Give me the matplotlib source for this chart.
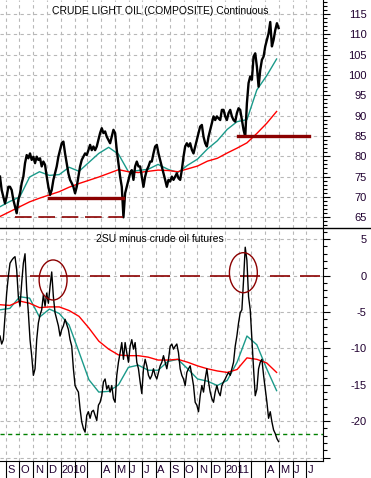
import numpy as np
import pandas as pd
import matplotlib
matplotlib.use("Agg")
import matplotlib.pyplot as plt
import matplotlib.ticker as mticker
import matplotlib.dates as mdates
from matplotlib.patches import Ellipse
from matplotlib.lines import Line2D

plt.rcParams['font.family'] = ['Liberation Sans', 'DejaVu Sans']

########################################################################################################################
# Data (roughly every 3.7 days for the price lines, every ~3 weeks for the averages)
########################################################################################################################

oil = [
    75.0, 71.7, 70.1, 68.4, 70.1, 72.5, 72.5, 71.7, 69.3, 67.6, 66.0, 69.3, 70.9, 73.4, 75.0, 78.3,
    80.3, 79.5, 80.7, 79.1, 79.9, 78.3, 79.9, 79.1, 79.5, 77.5, 78.7, 77.9, 75.0, 72.5, 70.5, 71.7,
    74.2, 75.8, 77.5, 79.9, 81.5, 83.2, 83.6, 80.7, 78.3, 75.8, 74.2, 73.4, 72.5, 70.9, 72.5, 75.0,
    77.5, 79.1, 79.9, 80.7, 80.3, 81.5, 82.8, 81.5, 82.4, 81.5, 82.4, 84.0, 85.7, 86.9, 85.7, 86.1,
    84.8, 84.0, 83.2, 84.8, 86.5, 85.7, 81.5, 78.3, 75.0, 72.5, 65.0, 70.9, 72.5, 74.2, 75.8, 76.6,
    74.2, 77.5, 78.7, 77.5, 77.5, 75.0, 72.5, 75.0, 76.6, 77.5, 78.7, 78.7, 80.7, 82.4, 82.8, 80.7,
    79.1, 77.5, 75.8, 74.2, 72.5, 74.2, 73.8, 75.0, 74.2, 75.0, 75.8, 74.6, 74.2, 76.6, 79.9, 82.4,
    83.2, 82.4, 83.2, 81.6, 80.7, 82.4, 84.0, 85.7, 87.3, 87.7, 84.8, 83.2, 82.4, 84.8, 86.5, 88.1,
    89.8, 88.9, 89.8, 89.3, 88.9, 91.4, 91.4, 89.8, 88.9, 90.6, 91.4, 89.8, 88.9, 88.5, 90.6, 91.8,
    91.4, 88.9, 86.5, 84.8, 93.0, 98.0, 99.6, 98.8, 104.5, 105.3, 102.0, 97.1, 101.2, 103.7, 104.5, 107.0,
    108.6, 110.2, 113.0, 107.0, 108.6, 111.0, 112.7, 111.5,
]
oil_ma_fast = [
    67.6, 68.9, 70.0, 74.9, 76.2, 75.3, 75.5, 77.3, 76.3, 78.5, 80.7, 82.2, 80.5, 76.2, 76.5,
    76.8, 78.0, 76.8, 76.0, 77.8, 79.3, 81.8, 83.8, 86.6, 88.5, 89.0, 96.3, 99.8, 103.9,
]
oil_ma_slow = [
    65.2, 66.4, 67.6, 68.8, 69.7, 70.5, 71.3, 72.4, 73.3, 74.1, 74.9, 75.8, 76.7, 76.2, 76.0,
    76.3, 76.6, 76.5, 76.2, 76.9, 77.6, 78.8, 79.5, 80.8, 82.0, 83.3, 85.6, 88.1, 91.0,
]

spread = [
    -8.3, -9.4, -8.8, -5.6, -2.4, -0.1, 1.7, 2.1, 2.4, 2.6, 0.8, -2.9, -4.2, -1.0, 1.7, 3.0,
    -2.0, -5.1, -8.8, -11.0, -13.7, -12.8, -8.8, -6.5, -5.4, -4.7, -2.6, -4.2, -2.4, -3.8, -1.5, 0.5,
    -2.9, -5.1, -6.0, -6.9, -8.3, -7.4, -6.9, -6.0, -6.7, -7.4, -8.8, -9.7, -12.8, -15.1, -15.6, -16.0,
    -18.3, -20.1, -21.0, -21.5, -19.2, -18.7, -19.6, -18.7, -18.5, -19.2, -19.9, -17.8, -17.4, -16.5, -14.6, -14.2,
    -15.6, -15.1, -16.0, -15.1, -16.9, -17.4, -13.7, -11.9, -10.6, -9.2, -11.5, -9.2, -10.6, -11.9, -9.7, -8.8,
    -10.1, -9.2, -11.9, -12.8, -14.6, -16.2, -12.8, -11.5, -12.4, -13.7, -14.2, -13.7, -12.8, -13.7, -14.2, -13.3,
    -12.4, -11.9, -11.0, -11.9, -12.8, -11.5, -9.7, -9.4, -10.1, -9.7, -9.4, -10.6, -12.8, -13.7, -14.2, -15.1,
    -13.3, -12.8, -12.4, -13.7, -15.1, -17.4, -17.8, -18.7, -16.5, -15.1, -16.0, -14.2, -12.8, -14.6, -16.0, -16.9,
    -17.4, -16.0, -15.1, -16.0, -16.5, -15.1, -14.6, -14.2, -13.7, -13.3, -13.7, -12.8, -11.9, -9.7, -8.3, -6.5,
    -5.1, -4.7, -0.6, 3.9, 2.1, -2.9, -4.7, -8.8, -12.8, -16.5, -15.6, -12.8, -11.9, -11.5, -13.7, -15.6,
    -17.4, -19.6, -18.7, -20.1, -21.2, -21.7, -22.4, -22.8,
]
spread_ma_fast = [
    -4.7, -4.5, -2.9, -3.1, -5.7, -4.6, -5.2, -6.8, -10.5, -14.3, -16.0, -15.9, -15.0, -12.6, -12.3,
    -13.0, -13.0, -11.8, -11.5, -12.8, -14.2, -14.5, -15.1, -14.4, -11.9, -8.3, -9.5, -12.8, -15.8,
]
spread_ma_slow = [
    -4.0, -4.1, -3.5, -3.8, -4.4, -4.3, -4.3, -4.8, -5.6, -7.2, -9.0, -10.1, -10.9, -11.0, -11.0,
    -11.2, -11.6, -11.6, -11.5, -11.9, -12.4, -12.8, -13.1, -13.3, -12.9, -11.3, -11.5, -12.0, -13.3,
]

# annotation levels
support_low = 65.0
support_low_span = ("2009-09-21", "2010-05-19")
support_mid = 69.7
support_mid_span = ("2009-12-06", "2010-05-19")
support_high = 85.0
support_high_span = ("2011-01-31", "2011-07-06")
spread_zero = 0.0
spread_floor = -21.7
circle_dates = ["2009-12-15", "2011-02-11"]
circle_values = [-0.6, 0.4]

month_labels = ["S", "O", "N", "D", "2010", "", "", "A", "M", "J", "J", "A", "S", "O", "N", "D",
                "2011", "", "", "A", "M", "J", "J"]

start = pd.Timestamp("2009-08-19")
px_dates = pd.date_range(start, periods=len(oil), freq="89h")
ma_dates = pd.date_range(start, periods=len(oil_ma_fast), freq="527h")
month_starts = pd.date_range("2009-09-01", "2011-07-01", freq="MS")

DARKRED = "#8b0000"
TEAL = "#1a9a8a"
GRID = dict(color="#b8b8b8", linestyle=(0, (3, 3)), linewidth=0.8)

fig = plt.figure(figsize=(3.71, 4.78), dpi=100)
ax1 = fig.add_axes([0, 0.5224, 0.8706, 0.4776])
ax2 = fig.add_axes([0, 0.0366, 0.8706, 0.4858], sharex=ax1)

########################################################################################################################
# Top panel: crude oil
########################################################################################################################

ax1.plot(px_dates, oil, color="black", lw=1.7, zorder=4)
ax1.plot(ma_dates, oil_ma_fast, color=TEAL, lw=1.0, zorder=3)
ax1.plot(ma_dates, oil_ma_slow, color="red", lw=1.0, zorder=3)
ax1.plot(pd.to_datetime(support_low_span), [support_low] * 2, color=DARKRED, lw=1.2,
         dashes=(10, 4), zorder=5)
ax1.plot(pd.to_datetime(support_mid_span), [support_mid] * 2, color=DARKRED, lw=2.4, zorder=5)
ax1.plot(pd.to_datetime(support_high_span), [support_high] * 2, color=DARKRED, lw=2.4, zorder=5)
ax1.set_ylim(62.3, 118.4)
ax1.text(160 / 323, 1 - 11 / 228.3, "CRUDE LIGHT OIL (COMPOSITE) Continuous", transform=ax1.transAxes,
         ha="center", va="center", fontsize=7.5)

########################################################################################################################
# Bottom panel: spread
########################################################################################################################

ax2.plot(px_dates, spread, color="black", lw=1.0, zorder=4)
ax2.plot(ma_dates, spread_ma_fast, color=TEAL, lw=1.0, zorder=3)
ax2.plot(ma_dates, spread_ma_slow, color="red", lw=1.0, zorder=3)
ax2.axhline(spread_zero, color=DARKRED, lw=1.2, dashes=(12, 6), zorder=2)
ax2.axhline(spread_floor, color="#008000", lw=1.0, dashes=(3, 2.5), zorder=2)
for d, v in zip(circle_dates, circle_values):
    ax2.add_patch(Ellipse((mdates.date2num(pd.Timestamp(d)), v), width=62, height=5.5,
                          fill=False, edgecolor=DARKRED, lw=1.0, zorder=6))
ax2.set_ylim(-25.4, 6.5)
ax2.text(160 / 323, 0.954, "2SU minus crude oil futures", transform=ax2.transAxes,
         ha="center", va="center", fontsize=7.5)

########################################################################################################################
# Axes styling
########################################################################################################################

ax1.set_xlim(start, pd.Timestamp("2011-08-07"))
for ax in (ax1, ax2):
    ax.yaxis.tick_right()
    ax.yaxis.set_major_locator(mticker.MultipleLocator(5))
    ax.yaxis.set_minor_locator(mticker.MultipleLocator(1))
    ax.tick_params(axis="y", which="major", length=5, width=0.8, direction="out", pad=26.5,
                   labelsize=8, labelcolor="#200030")
    ax.tick_params(axis="y", which="minor", length=3, width=0.8, direction="out")
    for lab in ax.get_yticklabels():
        lab.set_horizontalalignment("right")
    ax.set_xticks(month_starts, minor=True)
    ax.grid(axis="x", which="minor", **GRID)
    ax.grid(axis="y", which="major", **GRID)
    ax.spines["left"].set_visible(False)
    ax.spines["top"].set_visible(False)
    ax.set_axisbelow(True)

ax1.spines["bottom"].set_visible(False)
ax1.tick_params(axis="x", which="both", length=0, labelbottom=False)
ax2.yaxis.set_major_formatter(mticker.FuncFormatter(lambda v, p: "" if v < -22 else f"{v:g}"))
for lab in ax2.get_yticklabels():
    lab.set_horizontalalignment("right")

label_pos = [d + pd.Timedelta(days=2 if lab.startswith("20") else 3)
             for d, lab in zip(month_starts, month_labels)]
ax2.set_xticks(label_pos)
ax2.set_xticklabels(month_labels, ha="left", fontsize=8, color="#200030")
ax2.tick_params(axis="x", which="major", length=0, pad=3)
ax2.tick_params(axis="x", which="minor", length=13, width=0.8, direction="out", color="black")

fig.add_artist(Line2D([0, 1], [0.5224, 0.5224], color="black", lw=1.0))

fig.savefig("out.png", dpi=100)
